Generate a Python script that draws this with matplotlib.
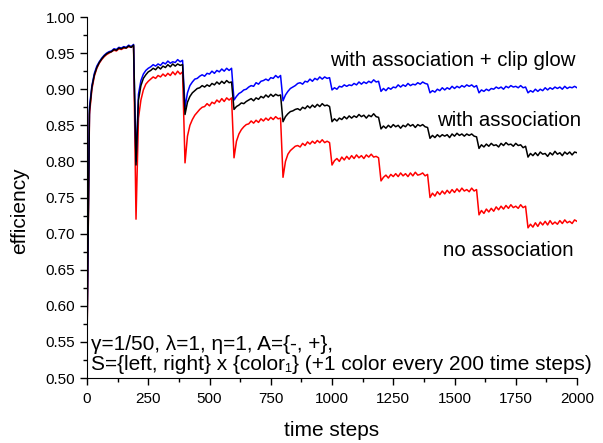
import matplotlib.pyplot as plt
import numpy as np

plt.rcParams['font.family'] = ['Liberation Sans', 'DejaVu Sans']

# time steps, sampled every 10 steps (0 .. 2000)
steps = np.arange(0, 2001, 10)

# values, one row per 200-step block
clip_glow = [
    [0.56, 0.875, 0.905, 0.922, 0.932, 0.938, 0.943, 0.947, 0.950, 0.952, 0.953, 0.956, 0.955, 0.958, 0.957, 0.959, 0.958, 0.961, 0.959, 0.962],
    [0.800, 0.893, 0.912, 0.921, 0.926, 0.929, 0.931, 0.934, 0.932, 0.935, 0.933, 0.937, 0.935, 0.939, 0.936, 0.938, 0.937, 0.941, 0.938, 0.940],
    [0.875, 0.895, 0.905, 0.910, 0.914, 0.915, 0.918, 0.920, 0.918, 0.922, 0.921, 0.925, 0.922, 0.926, 0.924, 0.928, 0.925, 0.929, 0.926, 0.929],
    [0.885, 0.890, 0.894, 0.896, 0.899, 0.900, 0.903, 0.905, 0.904, 0.909, 0.907, 0.911, 0.912, 0.914, 0.912, 0.916, 0.915, 0.919, 0.916, 0.919],
    [0.884, 0.892, 0.897, 0.901, 0.903, 0.905, 0.908, 0.909, 0.907, 0.911, 0.910, 0.914, 0.911, 0.915, 0.913, 0.917, 0.914, 0.917, 0.915, 0.916],
    [0.899, 0.902, 0.900, 0.904, 0.903, 0.906, 0.904, 0.906, 0.905, 0.908, 0.906, 0.910, 0.907, 0.910, 0.908, 0.911, 0.909, 0.913, 0.910, 0.911],
    [0.897, 0.901, 0.898, 0.902, 0.900, 0.903, 0.902, 0.906, 0.903, 0.906, 0.904, 0.908, 0.905, 0.907, 0.906, 0.909, 0.907, 0.910, 0.908, 0.907],
    [0.895, 0.898, 0.896, 0.900, 0.898, 0.902, 0.899, 0.902, 0.900, 0.904, 0.901, 0.904, 0.902, 0.905, 0.903, 0.906, 0.904, 0.906, 0.903, 0.905],
    [0.895, 0.899, 0.897, 0.900, 0.898, 0.901, 0.900, 0.903, 0.901, 0.903, 0.900, 0.904, 0.902, 0.905, 0.903, 0.904, 0.902, 0.905, 0.902, 0.903],
    [0.895, 0.898, 0.896, 0.900, 0.897, 0.900, 0.898, 0.902, 0.899, 0.902, 0.900, 0.903, 0.901, 0.903, 0.900, 0.904, 0.901, 0.903, 0.902, 0.904, 0.902],
]
with_assoc = [
    [0.55, 0.870, 0.903, 0.920, 0.930, 0.937, 0.942, 0.946, 0.949, 0.951, 0.952, 0.955, 0.954, 0.957, 0.956, 0.958, 0.957, 0.960, 0.958, 0.961],
    [0.795, 0.885, 0.905, 0.915, 0.920, 0.924, 0.926, 0.929, 0.927, 0.931, 0.928, 0.932, 0.930, 0.934, 0.931, 0.935, 0.932, 0.935, 0.933, 0.934],
    [0.865, 0.882, 0.890, 0.895, 0.898, 0.901, 0.902, 0.905, 0.903, 0.906, 0.904, 0.908, 0.906, 0.910, 0.907, 0.911, 0.908, 0.912, 0.909, 0.910],
    [0.872, 0.876, 0.878, 0.881, 0.880, 0.883, 0.885, 0.887, 0.884, 0.888, 0.886, 0.890, 0.888, 0.892, 0.889, 0.893, 0.890, 0.893, 0.891, 0.892],
    [0.855, 0.862, 0.866, 0.869, 0.870, 0.872, 0.873, 0.871, 0.875, 0.873, 0.877, 0.874, 0.878, 0.875, 0.879, 0.876, 0.880, 0.877, 0.878, 0.876],
    [0.855, 0.859, 0.856, 0.860, 0.858, 0.862, 0.859, 0.863, 0.860, 0.863, 0.861, 0.865, 0.862, 0.864, 0.860, 0.864, 0.862, 0.866, 0.862, 0.861],
    [0.845, 0.849, 0.846, 0.850, 0.847, 0.851, 0.848, 0.850, 0.846, 0.850, 0.848, 0.852, 0.849, 0.851, 0.847, 0.851, 0.849, 0.851, 0.848, 0.847],
    [0.832, 0.836, 0.833, 0.837, 0.834, 0.837, 0.835, 0.837, 0.833, 0.838, 0.835, 0.839, 0.836, 0.838, 0.835, 0.838, 0.836, 0.838, 0.835, 0.834],
    [0.818, 0.823, 0.820, 0.824, 0.821, 0.825, 0.822, 0.823, 0.820, 0.825, 0.822, 0.826, 0.823, 0.824, 0.821, 0.825, 0.822, 0.823, 0.819, 0.821],
    [0.806, 0.811, 0.808, 0.812, 0.808, 0.813, 0.810, 0.811, 0.807, 0.812, 0.809, 0.814, 0.810, 0.812, 0.808, 0.813, 0.810, 0.813, 0.809, 0.813, 0.812],
]
no_assoc = [
    [0.55, 0.865, 0.900, 0.918, 0.929, 0.936, 0.941, 0.945, 0.948, 0.950, 0.952, 0.954, 0.953, 0.956, 0.955, 0.957, 0.957, 0.959, 0.958, 0.960],
    [0.720, 0.860, 0.885, 0.899, 0.907, 0.911, 0.914, 0.917, 0.915, 0.919, 0.917, 0.921, 0.918, 0.922, 0.919, 0.924, 0.920, 0.925, 0.921, 0.924],
    [0.798, 0.835, 0.850, 0.858, 0.864, 0.868, 0.872, 0.875, 0.876, 0.880, 0.877, 0.882, 0.880, 0.885, 0.882, 0.887, 0.883, 0.888, 0.885, 0.888],
    [0.805, 0.828, 0.838, 0.844, 0.848, 0.851, 0.852, 0.856, 0.853, 0.857, 0.854, 0.859, 0.856, 0.860, 0.857, 0.861, 0.858, 0.862, 0.859, 0.860],
    [0.778, 0.800, 0.810, 0.815, 0.818, 0.821, 0.822, 0.820, 0.825, 0.822, 0.827, 0.824, 0.828, 0.825, 0.829, 0.826, 0.830, 0.826, 0.828, 0.826],
    [0.795, 0.801, 0.804, 0.800, 0.806, 0.802, 0.807, 0.803, 0.808, 0.804, 0.809, 0.805, 0.808, 0.804, 0.809, 0.806, 0.810, 0.806, 0.807, 0.805],
    [0.773, 0.778, 0.781, 0.777, 0.782, 0.779, 0.783, 0.779, 0.784, 0.780, 0.783, 0.779, 0.784, 0.780, 0.785, 0.781, 0.782, 0.784, 0.780, 0.782],
    [0.750, 0.756, 0.752, 0.758, 0.754, 0.759, 0.755, 0.760, 0.756, 0.761, 0.757, 0.762, 0.758, 0.763, 0.759, 0.761, 0.758, 0.763, 0.759, 0.761],
    [0.726, 0.732, 0.728, 0.734, 0.730, 0.735, 0.731, 0.737, 0.733, 0.738, 0.734, 0.739, 0.735, 0.740, 0.736, 0.738, 0.735, 0.740, 0.736, 0.738],
    [0.708, 0.713, 0.709, 0.715, 0.710, 0.716, 0.712, 0.717, 0.712, 0.718, 0.713, 0.716, 0.713, 0.718, 0.714, 0.719, 0.715, 0.717, 0.714, 0.719, 0.717],
]

series = [
    ('no association', no_assoc, '#ff0000'),
    ('with association + clip glow', clip_glow, '#0000ff'),
    ('with association', with_assoc, '#000000'),
]

fig = plt.figure(figsize=(6.03, 4.43), dpi=100)
ax = fig.add_axes([0.1443, 0.1467, 0.8126, 0.8149])

for name, blocks, col in series:
    y = np.concatenate([np.array(b) for b in blocks])
    ax.plot(steps, y, color=col, lw=1.1)

ax.set_xlim(0, 2000)
ax.set_ylim(0.5, 1.0)
ax.set_xticks(np.arange(0, 2001, 250))
ax.set_xticks(np.arange(0, 2001, 125), minor=True)
ax.set_yticks(np.arange(0.5, 1.001, 0.05))
ax.set_yticks(np.arange(0.5, 1.001, 0.025), minor=True)
ax.set_yticklabels(['%.2f' % v for v in np.arange(0.5, 1.001, 0.05)])
ax.spines['top'].set_visible(False)
ax.spines['right'].set_visible(False)
ax.tick_params(which='major', direction='out', length=5, width=1, labelsize=11)
ax.tick_params(axis='x', which='major', pad=5)
ax.tick_params(which='minor', direction='out', length=3, width=1)

ax.set_xlabel('time steps', fontsize=15, labelpad=11)
ax.set_ylabel('efficiency', fontsize=15, labelpad=12)
ax.yaxis.label.set_y(0.463)

ax.text(990, 0.940, 'with association + clip glow', fontsize=14.7, va='center')
ax.text(1430, 0.856, 'with association', fontsize=14.7, va='center')
ax.text(1453, 0.677, 'no association', fontsize=14.7, va='center')

ax.text(15, 0.547, 'γ=1/50, λ=1, η=1, A={-, +},', fontsize=15, va='center')
ax.text(15, 0.519, 'S={left, right} x {color₁} (+1 color every 200 time steps)',
        fontsize=15, va='center', clip_on=False)

fig.savefig('out.png', dpi=100)
